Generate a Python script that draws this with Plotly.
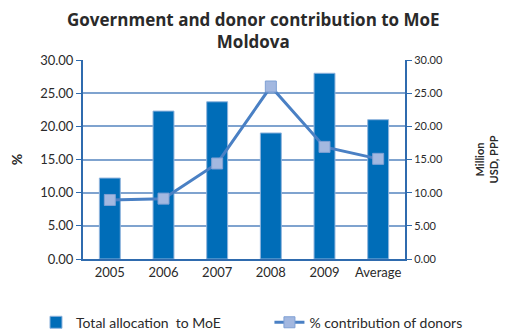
import plotly.graph_objects as go

categories = ["2005", "2006", "2007", "2008", "2009", "Average"]
total_allocation = [12.2, 22.3, 23.7, 19.0, 28.0, 21.0]
pct_donors = [8.9, 9.1, 14.4, 26.0, 16.9, 15.1]
tick_vals = [0, 5, 10, 15, 20, 25, 30]
tick_text = ["0.00", "5.00", "10.00", "15.00", "20.00", "25.00", "30.00"]

font_family = "Lato, Open Sans, sans-serif"
axis_color = "#2F6BAE"
grid_color = "#7FA3CF"

fig = go.Figure()
fig.add_trace(go.Bar(
    x=categories, y=total_allocation, name="Total allocation  to MoE",
    marker=dict(color="#006DB8", line=dict(color="#8FB4DD", width=1)),
    yaxis="y", legend="legend",
))
fig.add_trace(go.Scatter(
    x=categories, y=pct_donors, name="% contribution of donors",
    mode="lines+markers",
    line=dict(color="#4A80C4", width=3),
    marker=dict(symbol="square", size=11, color="#A3B8E0", line=dict(color="#7FA0D4", width=1)),
    yaxis="y2", legend="legend2",
))

fig.update_layout(
    width=513, height=333,
    margin=dict(l=83, r=108, t=60, b=74, autoexpand=False),
    paper_bgcolor="white", plot_bgcolor="white",
    font=dict(family=font_family, size=13, color="#2a2a2a"),
    annotations=[dict(text="<b>Government and donor contribution to MoE<br>Moldova</b>",
                      xref="paper", yref="paper", x=0.528, y=1.148,
                      xanchor="center", yanchor="middle", showarrow=False,
                      font=dict(family="Open Sans, sans-serif", size=17, color="#2a2a2a"))],
    bargap=0.61,
    showlegend=True,
    legend=dict(orientation="h", x=-0.146, xanchor="left", y=-0.32, yanchor="middle",
                font=dict(size=14, color="#2a2a2a"), itemwidth=30, bgcolor="rgba(0,0,0,0)"),
    legend2=dict(orientation="h", x=0.579, xanchor="left", y=-0.32, yanchor="middle",
                 font=dict(size=14, color="#2a2a2a"), itemwidth=30, bgcolor="rgba(0,0,0,0)"),
    xaxis=dict(showline=True, linecolor=axis_color, linewidth=2, ticks="",
               tickfont=dict(size=13), automargin=False),
    yaxis=dict(range=[0, 30], tickvals=tick_vals, ticktext=tick_text,
               showline=True, linecolor=axis_color, linewidth=2,
               ticks="outside", ticklen=5, tickcolor=axis_color,
               showgrid=True, gridcolor=grid_color, gridwidth=1.5,
               title=dict(text="<b>%</b>", font=dict(size=14), standoff=14),
               tickfont=dict(size=13), zeroline=False, automargin=False),
    yaxis2=dict(range=[0, 30], tickvals=tick_vals, ticktext=tick_text,
                overlaying="y", side="right",
                showline=True, linecolor=axis_color, linewidth=2,
                ticks="outside", ticklen=5, tickcolor=axis_color,
                showgrid=False,
                title=dict(text="<b>Million<br>USD, PPP</b>", font=dict(size=11), standoff=34),
                tickfont=dict(size=11), zeroline=False, automargin=False),
)

fig.write_html("out.html", config={"displayModeBar": False})

# remove the default body margin so the figure sits at the window's top-left corner
with open("out.html", "r", encoding="utf-8") as f:
    html = f.read()
html = html.replace("<body>", '<body style="margin:0;padding:0;">', 1)
with open("out.html", "w", encoding="utf-8") as f:
    f.write(html)
